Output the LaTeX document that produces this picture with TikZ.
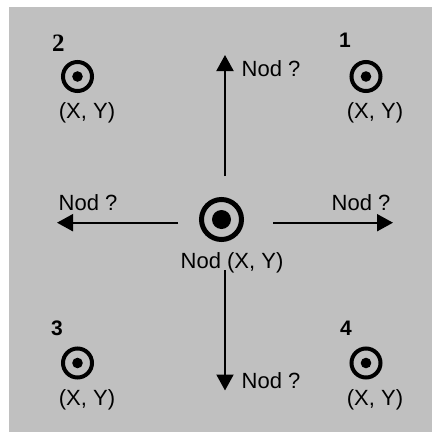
\documentclass[tikz,border=0pt]{standalone}
\usepackage{fontspec}
\setmainfont{Liberation Sans}
\newfontfamily\serifdigit{Liberation Serif}
\usetikzlibrary{arrows.meta}
\definecolor{bggray}{RGB}{192,192,192}
\begin{document}
\begin{tikzpicture}[x=1pt,y=-1pt,
  lbl/.style={font=\fontsize{22}{24}\selectfont, inner sep=0pt},
  num/.style={font=\fontsize{21}{23}\selectfont\bfseries, inner sep=0pt},
  sernum/.style={font=\fontsize{25}{27}\selectfont\serifdigit\bfseries, inner sep=0pt},
  target/.style={circle, draw=black, line width=4pt, minimum size=29pt, inner sep=0pt},
  bigtarget/.style={circle, draw=black, line width=5pt, minimum size=40pt, inner sep=0pt},
  arr/.style={draw=black, line width=2pt, -{Triangle[length=16pt,width=17pt]}}
]
\useasboundingbox (0,0) rectangle (432,432);
\fill[bggray] (9,7) rectangle (432,432);

% corner targets
\node[target] (p1) at (366,76.5) {};
\node[target] (p2) at (77.5,76.5) {};
\node[target] (p3) at (77.5,363) {};
\node[target] (p4) at (366,363) {};
\foreach \p in {p1,p2,p3,p4} \fill[black] (\p.center) circle (5.3);

% centre target
\node[bigtarget] (c) at (221.5,219.5) {};
\fill[black] (c.center) circle (9.5);

% arrows
\coordinate (uS) at (225,176);
\coordinate (uE) at (225,55);
\coordinate (dS) at (225,270);
\coordinate (dE) at (225,390.5);
\coordinate (lS) at (178,222.7);
\coordinate (lE) at (57,222.7);
\coordinate (rS) at (273,222.7);
\coordinate (rE) at (393,222.7);
\draw[arr] (uS) -- (uE);
\draw[arr] (dS) -- (dE);
\draw[arr] (lS) -- (lE);
\draw[arr] (rS) -- (rE);

% labels
\node[lbl] (tu) at (271,69) {Nod ?};
\node[lbl] (td) at (271,381) {Nod ?};
\node[lbl] (tl) at (88,202.5) {Nod ?};
\node[lbl] (tr) at (361,202.5) {Nod ?};
\node[lbl] (tc) at (232,262.5) {Nod (X, Y)};

\node[lbl] (x1) at (375,113) {(X, Y)};
\node[lbl] (x2) at (87,113) {(X, Y)};
\node[lbl] (x3) at (87,400) {(X, Y)};
\node[lbl] (x4) at (375,400) {(X, Y)};

\node[num] (n1) at (345,40.5) {1};
\node[sernum] (n2) at (58.5,43.5) {2};
\node[num] (n3) at (57,328.5) {3};
\node[num] (n4) at (346,328.5) {4};
\end{tikzpicture}
\end{document}
